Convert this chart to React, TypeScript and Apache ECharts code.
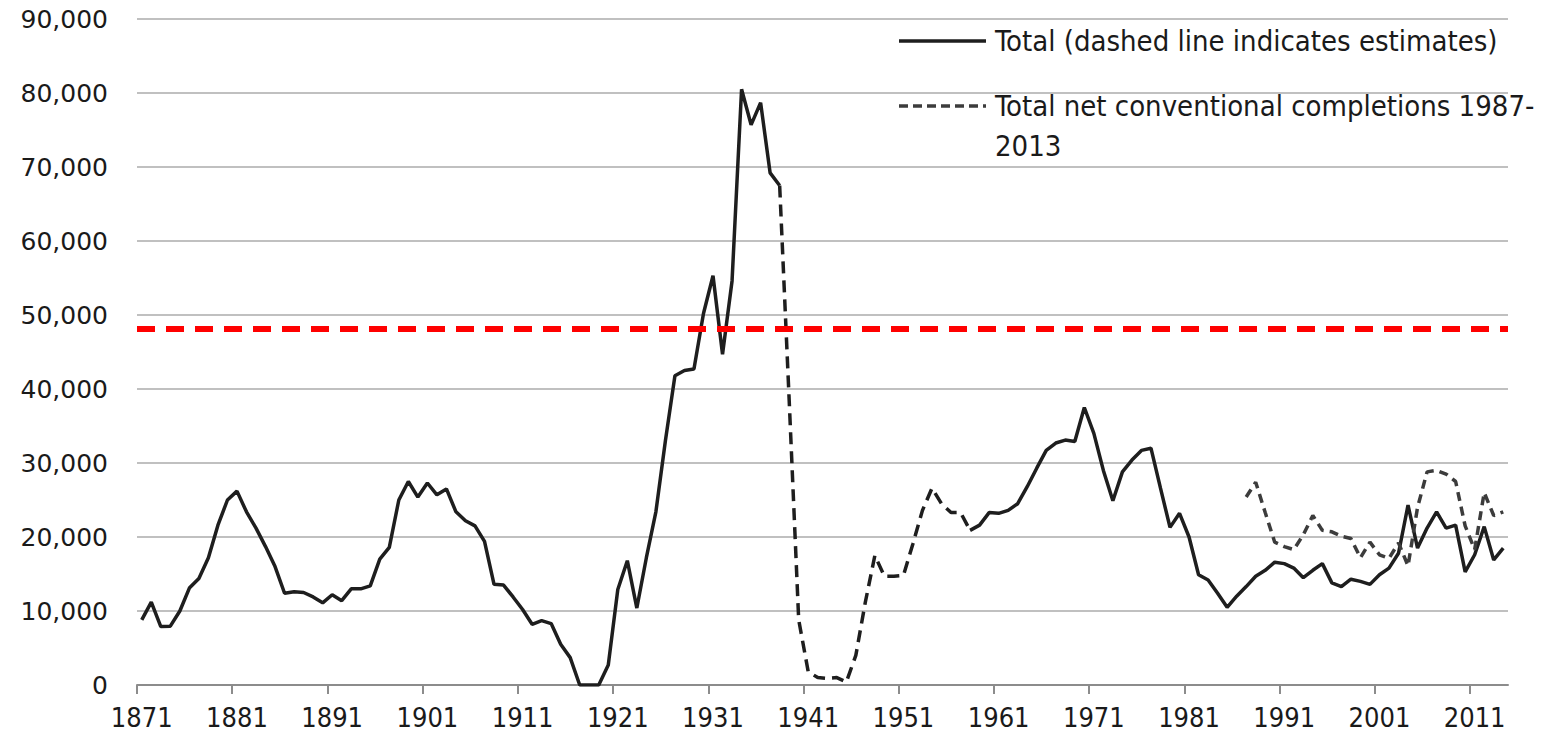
import React, { useEffect, useRef } from "react";
import * as echarts from "echarts";

// Year range shown on the x axis
const firstYear = 1871;
const lastYear = 2014;
// Tick / label years on the x axis
const tickYears: number[] = [1871, 1881, 1891, 1901, 1911, 1921, 1931, 1941, 1951, 1961, 1971, 1981, 1991, 2001, 2011];

// Total completions, 1871–2014 (estimates between 1938 and 1958)
const totalValues: number[] = [
  8800, 11200, 7900, 7950, 10000, 13100, 14400, 17200, 21600, 25000, // 1871-1880
  26200, 23400, 21200, 18700, 16000, 12400, 12600, 12500, 11900, 11100, // 1881-1890
  12200, 11400, 13000, 13000, 13400, 17000, 18600, 25000, 27500, 25400, // 1891-1900
  27300, 25700, 26500, 23400, 22200, 21500, 19400, 13600, 13500, 11900, // 1901-1910
  10200, 8200, 8700, 8300, 5500, 3700, 0, 0, 0, 2700, // 1911-1920
  12900, 16800, 10400, 17200, 23400, 33000, 41800, 42500, 42700, 50200, // 1921-1930
  55300, 44700, 54600, 80500, 75700, 78700, 69200, 67500, 38500, 8800, // 1931-1940
  1800, 1000, 900, 1000, 400, 4000, 11200, 17500, 14700, 14700, // 1941-1950
  14800, 19100, 23600, 26600, 24500, 23300, 23300, 20900, 21600, 23300, // 1951-1960
  23200, 23600, 24500, 26800, 29300, 31700, 32700, 33100, 32900, 37500, // 1961-1970
  34000, 29000, 24900, 28800, 30400, 31700, 32000, 26600, 21300, 23200, // 1971-1980
  20000, 14900, 14200, 12400, 10500, 12000, 13300, 14700, 15500, 16600, // 1981-1990
  16400, 15800, 14500, 15500, 16400, 13800, 13300, 14300, 14000, 13600, // 1991-2000
  14900, 15800, 17800, 24300, 18500, 21200, 23400, 21200, 21600, 15300, // 2001-2010
  17600, 21400, 16900, 18500, // 2011-2014
];
const estimateFrom = 1938;
const estimateTo = 1958;

// Total net conventional completions, 1987–2014
const completionsFrom = 1987;
const completionsValues: number[] = [
  25400, 27400, 23300, 19300, 18700, 18300, 20300, 22900, 20900, 20700, // 1987-1996
  20100, 19800, 17200, 19300, 17600, 17100, 19200, 16100, 24000, 28800, // 1997-2006
  29000, 28500, 27500, 21500, 18300, 26000, 22900, 23400, // 2007-2014
];

// Reference level (red dashed line)
const thresholdValue = 48200;

const totalName = "Total (dashed line indicates estimates)";
const completionsName = "Total net conventional completions 1987-";
const completionsName2 = "2013";

export default function App() {
  const ref = useRef<HTMLDivElement>(null);

  useEffect(() => {
    if (!ref.current) return;
    const chart = echarts.init(ref.current, undefined, { renderer: "svg" });

    // each year is plotted in the middle of its one-year band
    const solid: [number, number][] = [];
    const dashed: [number, number][] = [];
    totalValues.forEach((v, i) => {
      const y = firstYear + i;
      if (y <= estimateFrom || y >= estimateTo) solid.push([y + 0.5, v]);
      else solid.push([y + 0.5, NaN]);
      if (y >= estimateFrom && y <= estimateTo) dashed.push([y + 0.5, v]);
    });
    const solidData = solid.map(([x, v]) => (isNaN(v) ? [x, "-"] : [x, v]));
    const completions = completionsValues.map((v, i) => [completionsFrom + i + 0.5, v]);

    const textColor = "#1a1a1a";
    const condensed = '"DejaVu Sans Condensed", "DejaVu Sans", sans-serif';

    const L1 = 41;
    const L2 = 106;
    const L3 = 146;
    const legendFont = `29px ${condensed}`;

    chart.setOption({
      animation: false,
      backgroundColor: "#ffffff",
      grid: { left: 137, right: 49, top: 19, bottom: 53, containLabel: false },
      xAxis: {
        type: "value",
        min: firstYear,
        max: lastYear + 1,
        axisLine: { onZero: false, lineStyle: { color: "#8c8c8c", width: 2 } },
        axisTick: {
          show: true,
          customValues: tickYears,
          length: 9,
          lineStyle: { color: "#8c8c8c", width: 2 },
        },
        axisLabel: {
          customValues: tickYears.map((y) => y + 0.5),
          formatter: (v: number) => String(Math.floor(v)),
          color: textColor,
          fontFamily: condensed,
          fontSize: 27,
          margin: 19,
        },
        splitLine: { show: false },
      },
      yAxis: {
        type: "value",
        min: 0,
        max: 90000,
        interval: 10000,
        axisLine: { show: false },
        axisTick: { show: false },
        axisLabel: {
          formatter: (v: number) => v.toLocaleString("en-US"),
          color: textColor,
          fontFamily: '"DejaVu Sans", sans-serif',
          fontSize: 25,
          margin: 29,
        },
        splitLine: { lineStyle: { color: "#c0c0c0", width: 2 } },
      },
      series: [
        {
          name: totalName,
          type: "line",
          data: solidData,
          showSymbol: false,
          symbol: "none",
          connectNulls: false,
          lineStyle: { color: "#1e1e1e", width: 3.5 },
          z: 3,
        },
        {
          name: "Total (estimates)",
          type: "line",
          data: dashed,
          showSymbol: false,
          symbol: "none",
          lineStyle: { color: "#1e1e1e", width: 3.5, type: [12, 7] },
          z: 3,
        },
        {
          name: completionsName + completionsName2,
          type: "line",
          data: completions,
          showSymbol: false,
          symbol: "none",
          lineStyle: { color: "#3c3c3c", width: 3.5, type: [9, 6] },
          z: 3,
          markLine: {
            silent: true,
            symbol: "none",
            label: { show: false },
            lineStyle: { color: "#ff0000", width: 6, type: [18, 11] },
            data: [{ yAxis: thresholdValue }],
            z: 4,
          },
        },
      ],
      graphic: [
        {
          type: "line",
          shape: { x1: 899, y1: L1, x2: 986, y2: L1 },
          style: { stroke: "#1e1e1e", lineWidth: 3.5 },
        },
        {
          type: "text",
          x: 995,
          y: L1,
          style: {
            text: totalName,
            fill: textColor,
            font: legendFont,
            verticalAlign: "middle",
          },
        },
        {
          type: "line",
          shape: { x1: 899, y1: L2, x2: 986, y2: L2 },
          style: { stroke: "#3c3c3c", lineWidth: 3.5, lineDash: [9, 5] },
        },
        {
          type: "text",
          x: 995,
          y: L2,
          style: {
            text: completionsName,
            fill: textColor,
            font: legendFont,
            verticalAlign: "middle",
          },
        },
        {
          type: "text",
          x: 995,
          y: L3,
          style: {
            text: completionsName2,
            fill: textColor,
            font: legendFont,
            verticalAlign: "middle",
          },
        },
      ],
    });

    return () => chart.dispose();
  }, []);

  return (
    <div
      ref={ref}
      style={{ position: "fixed", left: 0, top: 0, width: 1557, height: 738, background: "#fff" }}
    />
  );
}
